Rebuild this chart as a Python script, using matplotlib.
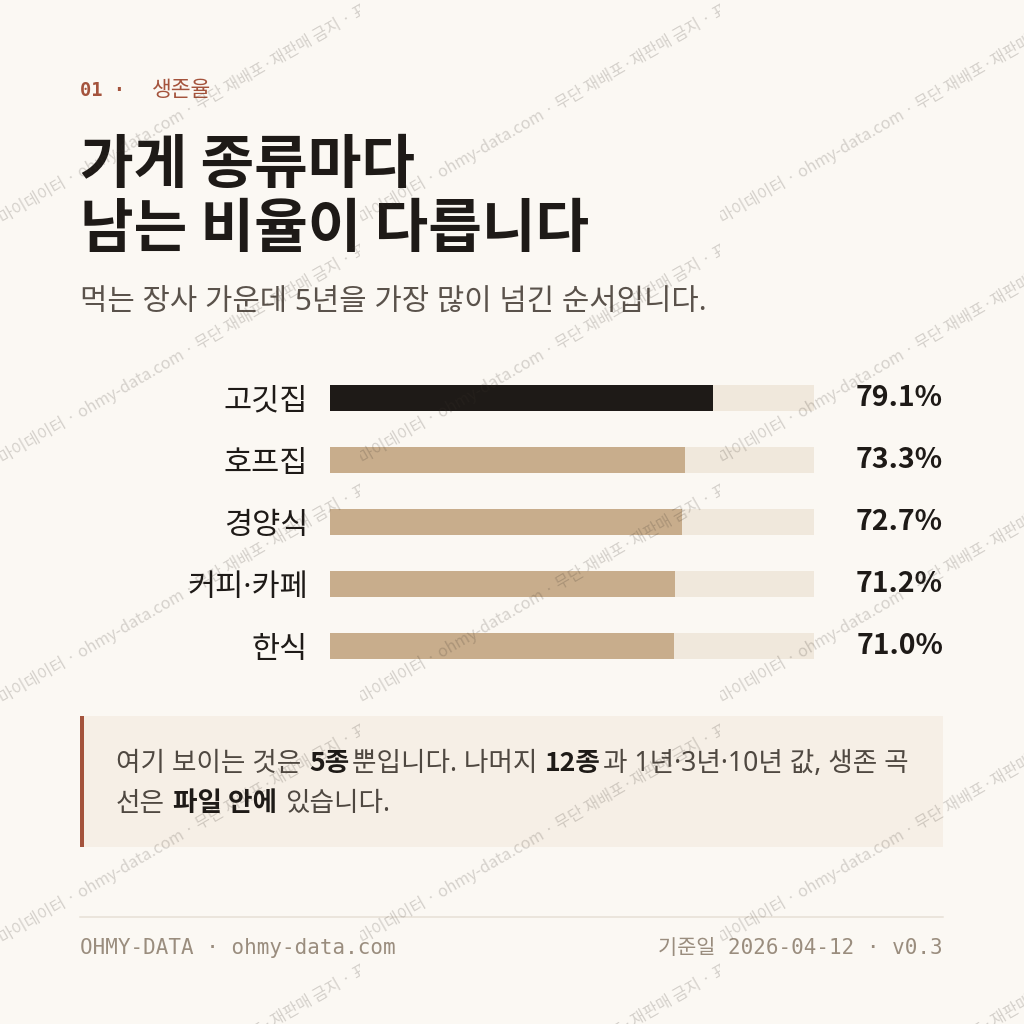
import matplotlib
matplotlib.use("Agg")
import matplotlib.pyplot as plt
import matplotlib.transforms as mtransforms
from matplotlib.patches import Rectangle

# data
categories = ["고깃집", "호프집", "경양식", "커피·카페", "한식"]
survival_5y = [79.1, 73.3, 72.7, 71.2, 71.0]
highlight = "고깃집"

kicker_num = "01 ·"
kicker_txt = "생존율"
title_lines = ["가게 종류마다", "남는 비율이 다릅니다"]
subtitle = "먹는 장사 가운데 5년을 가장 많이 넘긴 순서입니다."
note_line1 = [("여기 보이는 것은", "normal"), (" ", None), ("5종", "bold"),
              ("뿐입니다. 나머지", "normal"), (" ", None), ("12종", "bold"),
              ("과 1년·3년·10년 값, 생존 곡", "normal")]
note_line2 = [("선은", "normal"), (" ", None), ("파일 안에", "bold"), (" ", None),
              ("있습니다.", "normal")]
footer_left = "OHMY-DATA · ohmy-data.com"
footer_right = "기준일 2026-04-12 · v0.3"
watermark = "마이데이터 · ohmy-data.com · 무단 재배포·재판매 금지 · 표시"

# colours
BG = "#FBF8F3"
INK = "#1E1A17"
TAN = "#C8AD8C"
TRACK = "#F0E8DC"
RUST = "#A4533C"
SUB = "#5A524B"
NOTE = "#4F4841"
NOTE_BG = "#F6EFE6"
FOOT = "#9A8D7E"
RULE = "#E7E0D5"

KR = ["Noto Sans CJK KR", "DejaVu Sans"]
KR_LAT = ["Noto Sans", "Noto Sans CJK KR"]   # proportional middle dot / digits
MONO = ["DejaVu Sans Mono", "Noto Sans CJK KR"]
plt.rcParams["font.family"] = KR

PX = 72 / 100  # pixels -> points

fig = plt.figure(figsize=(10.24, 10.24), dpi=100, facecolor=BG)
bg = fig.add_axes([0, 0, 1, 1], zorder=0)
bg.set_xlim(0, 1024)
bg.set_ylim(1024, 0)
bg.axis("off")
renderer = fig.canvas.get_renderer()

# header
bg.text(80, 96, kicker_num, family=MONO, fontsize=13.5, color=RUST,
        fontweight="bold", va="baseline")
bg.text(152, 96, kicker_txt, family=KR, fontsize=15.5, color=RUST, va="baseline")

bg.text(80, 183, title_lines[0], fontsize=42, fontweight="bold", color=INK, va="baseline")
bg.text(80, 247, title_lines[1], fontsize=42, fontweight="bold", color=INK, va="baseline")
bg.text(80, 311, subtitle, family=KR_LAT, fontsize=21.4, color=SUB, va="baseline")

# bars
n = len(categories)
ypos = list(range(n))
bx = fig.add_axes([330 / 1024, (1024 - 677) / 1024, 484 / 1024, 310 / 1024], zorder=1)
bx.patch.set_visible(False)
bx.set_xlim(0, 100)
bx.set_ylim(n - 0.5, -0.5)
bar_h = 26 / 62
bx.barh(ypos, [100] * n, height=bar_h, color=TRACK, linewidth=0)
bx.barh(ypos, survival_5y, height=bar_h, linewidth=0,
        color=[INK if c == highlight else TAN for c in categories])
bx.set_yticks(ypos, categories, family=KR_LAT)
bx.set_xticks([])
bx.tick_params(axis="y", length=0, pad=22 * PX, labelsize=22, labelcolor=INK)
for s in bx.spines.values():
    s.set_visible(False)
tr = mtransforms.blended_transform_factory(bx.transAxes, bx.transData)
for y, v in zip(ypos, survival_5y):
    bx.text((943 - 330) / 484, y, f"{v:.1f}%", transform=tr, ha="right", va="center",
            fontsize=20.5, fontweight="bold", color=INK)

# note box
bg.add_patch(Rectangle((80, 716), 863, 131, facecolor=NOTE_BG, linewidth=0))
bg.add_patch(Rectangle((80, 716), 4, 131, facecolor=RUST, linewidth=0))

NOTE_SIZE = 19.2


def draw_runs(x, y, runs):
    for text, weight in runs:
        if weight is None:
            x += 6
            continue
        bold = weight == "bold"
        t = bg.text(x, y, text, family=KR if bold else KR_LAT, fontsize=NOTE_SIZE,
                    fontweight=weight, color=INK if bold else NOTE,
                    va="baseline", ha="left")
        x = t.get_window_extent(renderer).x1 + 2


draw_runs(116, 771, note_line1)
draw_runs(116, 811, note_line2)

# footer
bg.plot([80, 943], [917, 917], color=RULE, linewidth=1.5 * PX)
bg.text(80, 954, footer_left, family=MONO, fontsize=15, color=FOOT, va="baseline")
bg.text(943, 954, footer_right, family=MONO, fontsize=15, color=FOOT,
        va="baseline", ha="right")

# watermark tiles
wm = fig.add_axes([0, 0, 1, 1], zorder=5)
wm.set_xlim(0, 1024)
wm.set_ylim(1024, 0)
wm.axis("off")
for i in range(3):
    for j in range(5):
        x0, y0 = i * 360, j * 240
        clip = Rectangle((x0, y0), 360, 240, transform=wm.transData)
        t = wm.text(x0 + 3, y0 + 224, watermark, fontsize=11.6, color="#3C342C", alpha=0.2,
                    rotation=30, rotation_mode="anchor", ha="left", va="baseline",
                    clip_on=True)
        t.set_clip_path(clip)

fig.savefig("out.png", dpi=100, facecolor=BG)
